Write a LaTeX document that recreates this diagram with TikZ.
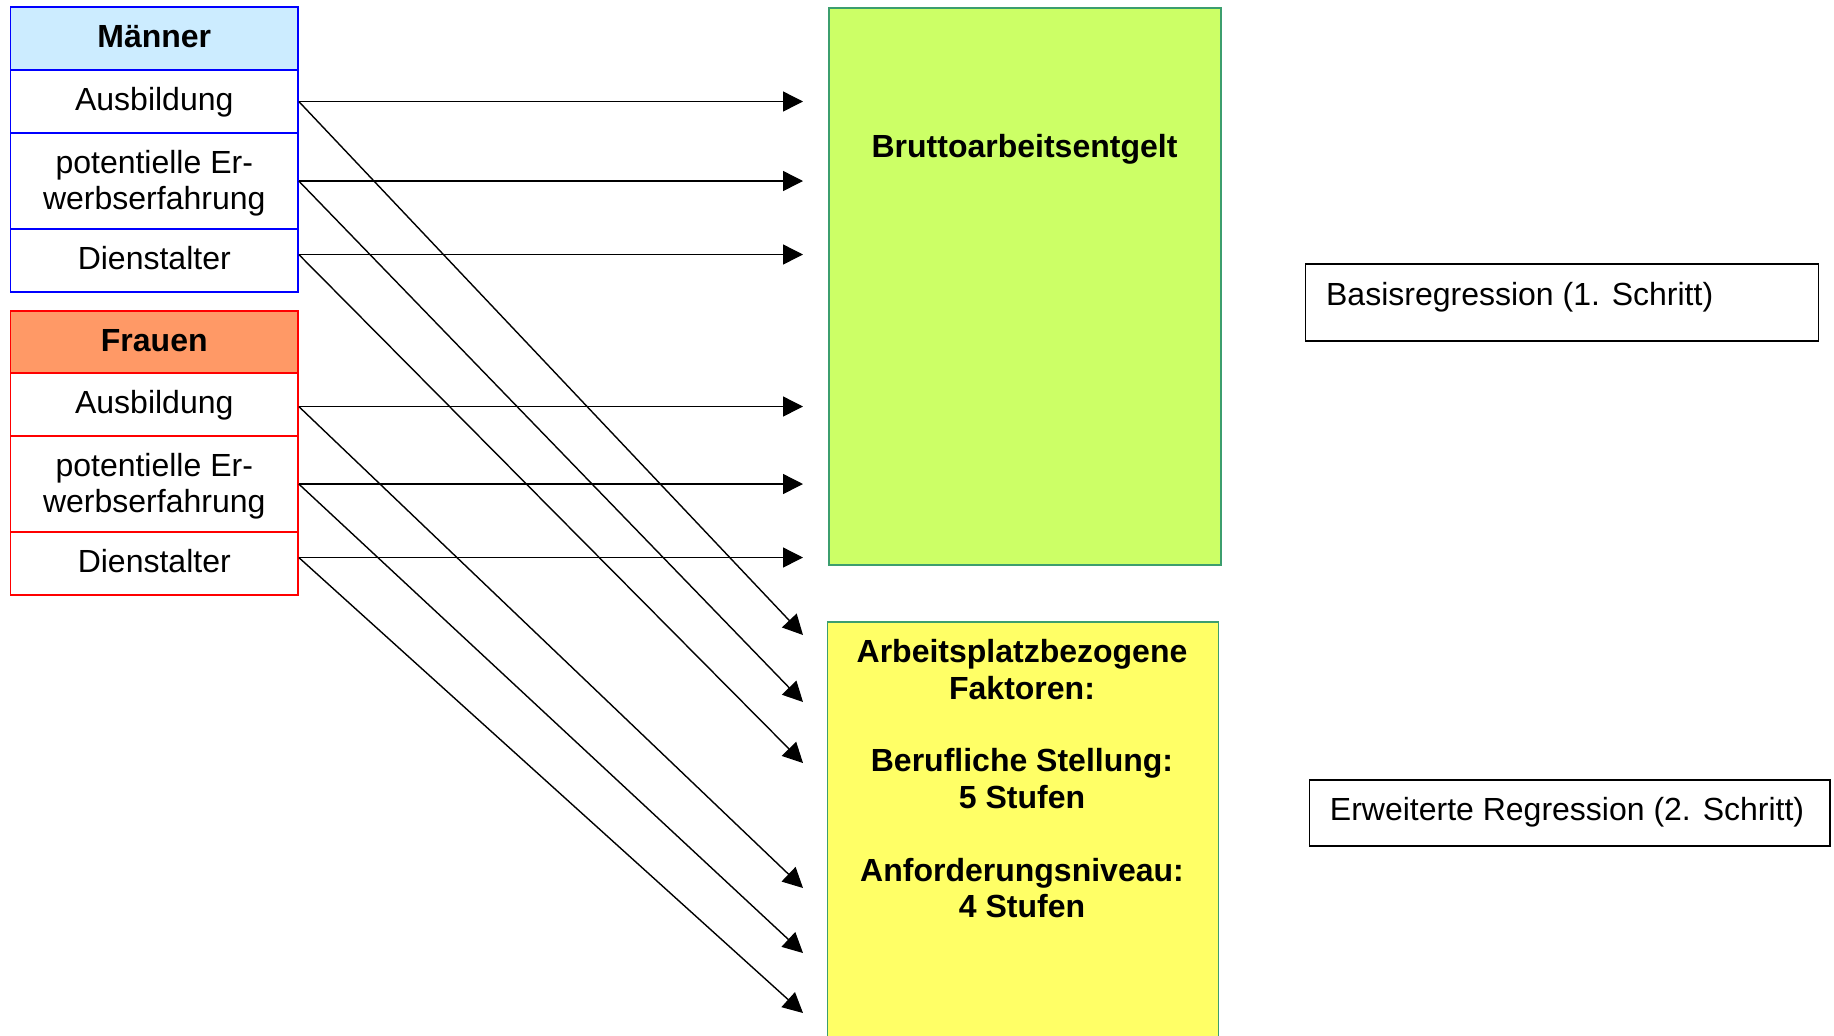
\documentclass[tikz,border=0pt]{standalone}
\usepackage{fontspec}
\setmainfont{Liberation Sans}
\usetikzlibrary{arrows.meta}
\definecolor{mhead}{HTML}{CCECFF}
\definecolor{fhead}{HTML}{FF9966}
\definecolor{mblue}{HTML}{0000FF}
\definecolor{fred}{HTML}{FF0000}
\definecolor{gfill}{HTML}{CCFF66}
\definecolor{yfill}{HTML}{FFFF66}
\definecolor{gline}{HTML}{3C9E6E}
\begin{document}
\begin{tikzpicture}[x=0.5pt,y=-0.5pt,
  basefont/.style={font=\fontsize{16pt}{18.2pt}\selectfont},
  boldfont/.style={font=\fontsize{16pt}{18.2pt}\selectfont\bfseries},
  every node/.style={inner sep=0pt},
  oneline/.style={text height=12pt, text depth=2.84pt},
  mrow/.style={draw=mblue, line width=0.8pt, fill=white, minimum width=143.75pt, align=center, basefont},
  frow/.style={draw=fred, line width=0.8pt, fill=white, minimum width=143.75pt, align=center, basefont},
  gbox/.style={draw=gline, line width=0.8pt, fill=gfill},
  ybox/.style={draw=gline, line width=0.8pt, fill=yfill},
  tbox/.style={draw=black, line width=0.9pt, fill=white},
  arr/.style={line width=0.7pt, -{Triangle[length=10pt,width=10pt]}}
]
\clip (0,0) rectangle (1834,1035);
\fill[white] (0,0) rectangle (1834,1035);

% Maenner
\node[mrow, fill=mhead, minimum height=31.5pt, boldfont, oneline] (mH) at (154.25,38.5) {Männer};
\node[mrow, minimum height=31.5pt, oneline] (mA) at (154.25,101.5) {Ausbildung};
\node[mrow, minimum height=48pt] (mP) at (154.25,181) {\rule{0pt}{14pt}potentielle Er-\\werbserfahrung};
\node[mrow, minimum height=31.5pt, oneline] (mD) at (154.25,260.5) {Dienstalter};

% Frauen
\node[frow, fill=fhead, minimum height=31pt, boldfont, oneline] (fH) at (154.25,342) {Frauen};
\node[frow, minimum height=31.5pt, oneline] (fA) at (154.25,404.5) {Ausbildung};
\node[frow, minimum height=48pt] (fP) at (154.25,484) {\rule{0pt}{14pt}potentielle Er-\\werbserfahrung};
\node[frow, minimum height=31.5pt, oneline] (fD) at (154.25,563.5) {Dienstalter};

% Target boxes
\node[gbox, minimum width=196pt, minimum height=278.5pt, anchor=north west] (brutto) at (828,7) {};
\node[boldfont] (bruttotext) at (1024.5,149.5) {Bruttoarbeitsentgelt};

\node[ybox, minimum width=195.6pt, minimum height=212pt, anchor=north west] (fak) at (826.5,621) {};
\node[boldfont, align=center, anchor=north] (faktext) at (1022,639) {Arbeitsplatzbezogene\\Faktoren:\\[18.2pt]Berufliche Stellung:\\5 Stufen\\[18.2pt]Anforderungsniveau:\\4 Stufen};

\node[tbox, minimum width=256.5pt, minimum height=38.5pt, anchor=north west] (basis) at (1304.5,263) {};
\node[basefont, anchor=west] (basistext) at (1325.7,297.5) {Basisregression (1. Schritt)};

\node[tbox, minimum width=260.25pt, minimum height=33pt, anchor=north west] (erw) at (1308.5,779) {};
\node[basefont, anchor=west] (erwtext) at (1329.5,812) {Erweiterte Regression (2. Schritt)};

% Arrow endpoints
\coordinate (tx) at (803,0);
\coordinate (mDo) at ([yshift=3pt]mD.east);
\coordinate (fAo) at ([yshift=-1pt]fA.east);
\coordinate (fDo) at ([yshift=3pt]fD.east);
\coordinate (d1) at (803,635);
\coordinate (d2) at (803,702);
\coordinate (d3) at (803,763);
\coordinate (d4) at (803,888);
\coordinate (d5) at (803,953);
\coordinate (d6) at (803,1013);

% Horizontal arrows
\draw[arr] (mA.east) -- (mA.east -| tx);
\draw[arr] (mP.east) -- (mP.east -| tx);
\draw[arr] (mDo) -- (mDo -| tx);
\draw[arr] (fAo) -- (fAo -| tx);
\draw[arr] (fP.east) -- (fP.east -| tx);
\draw[arr] (fDo) -- (fDo -| tx);

% Diagonal arrows
\draw[arr] (mA.east) -- (d1);
\draw[arr] (mP.east) -- (d2);
\draw[arr] (mDo) -- (d3);
\draw[arr] (fAo) -- (d4);
\draw[arr] (fP.east) -- (d5);
\draw[arr] (fDo) -- (d6);
\end{tikzpicture}
\end{document}
